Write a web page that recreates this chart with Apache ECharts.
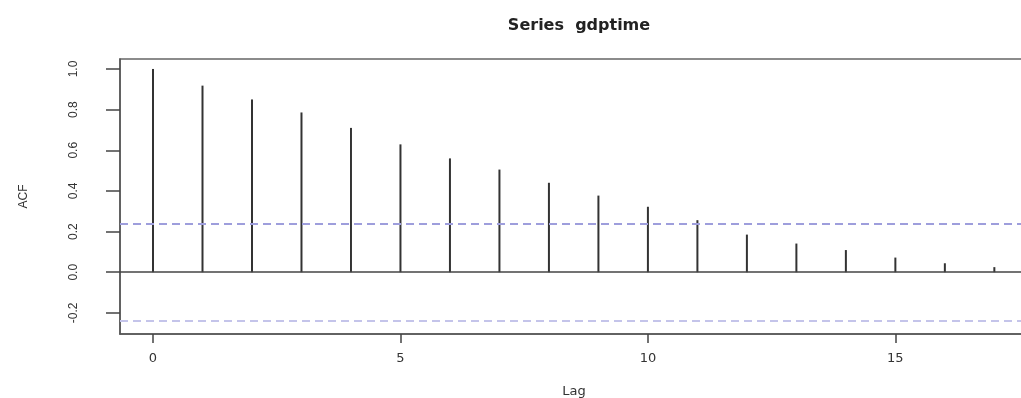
<!DOCTYPE html>
<html>
<head>
<meta charset="utf-8">
<script src="https://cdn.jsdelivr.net/npm/echarts@6/dist/echarts.min.js"></script>
<style>html,body{margin:0;padding:0;background:#fff}#c{width:1021px;height:398px}</style>
</head>
<body>
<div id="c"></div>
<script>
const lags = [0,1,2,3,4,5,6,7,8,9,10,11,12,13,14,15,16,17];
const acf = [1.0,0.918,0.850,0.786,0.710,0.629,0.560,0.505,0.440,0.377,0.322,0.256,0.185,0.141,0.109,0.072,0.044,0.025];
const ciBound = 0.245;
const xTicks = [0,5,10,15];
const yTicks = [-0.2,0.0,0.2,0.4,0.6,0.8,1.0];
const titleText = 'Series  gdptime';
const xName = 'Lag';
const yName = 'ACF';

const chart = echarts.init(document.getElementById('c'));
chart.setOption({
  animation: false,
  backgroundColor: '#fff',
  title: {
    text: titleText, left: 574, top: 13, textAlign: 'center',
    textStyle: {fontFamily: 'DejaVu Sans', fontWeight: 'bold', fontSize: 16, color: '#222'}
  },
  grid: {left: 120, top: 59, right: -7, bottom: 64, outerBoundsMode: 'none', containLabel: false,
    show: true, borderColor: '#666', borderWidth: 1.5, backgroundColor: 'transparent'},
  xAxis: {
    type: 'value', min: -0.667, max: 17.68,
    name: xName, nameLocation: 'middle', nameGap: 51,
    nameTextStyle: {fontFamily: 'DejaVu Sans', fontSize: 13, color: '#333'},
    axisLine: {show: true, onZero: false, lineStyle: {color: '#555', width: 1.5}},
    axisTick: {show: true, length: 9, customValues: xTicks, lineStyle: {color: '#444', width: 1.5}},
    axisLabel: {customValues: xTicks, margin: 18, fontFamily: 'DejaVu Sans', fontSize: 13, color: '#333'},
    splitLine: {show: false}
  },
  yAxis: {
    type: 'value', min: -0.304, max: 1.049,
    name: yName, nameLocation: 'middle', nameGap: 90, nameRotate: 90,
    nameTextStyle: {fontFamily: 'Liberation Sans', fontSize: 12, color: '#333'},
    axisLine: {show: true, onZero: false, lineStyle: {color: '#555', width: 1.5}},
    axisTick: {show: true, length: 14, customValues: yTicks, lineStyle: {color: '#444', width: 1.5}},
    axisLabel: {customValues: yTicks, rotate: 90, margin: 40, fontFamily: 'Liberation Sans', fontSize: 12, color: '#333',
      formatter: v => Number(v).toFixed(1)},
    splitLine: {show: false}
  },
  series: [{
    type: 'custom',
    data: lags.map((l, i) => [l, acf[i]]),
    renderItem: function (params, api) {
      const p0 = api.coord([api.value(0), 0]);
      const p1 = api.coord([api.value(0), api.value(1)]);
      return {type: 'line', shape: {x1: p0[0], y1: p0[1], x2: p1[0], y2: p1[1]},
        style: {stroke: '#333', lineWidth: 2}};
    },
    markLine: {
      silent: true, symbol: 'none', label: {show: false},
      data: [
        {yAxis: 0, lineStyle: {color: '#444', width: 1.5, type: 'solid'}},
        {yAxis: ciBound, lineStyle: {color: '#9e9edc', width: 2, type: [8, 5]}},
        {yAxis: -ciBound, lineStyle: {color: '#c4c4ea', width: 2, type: [8, 5]}}
      ]
    }
  }]
});
</script>
</body>
</html>
